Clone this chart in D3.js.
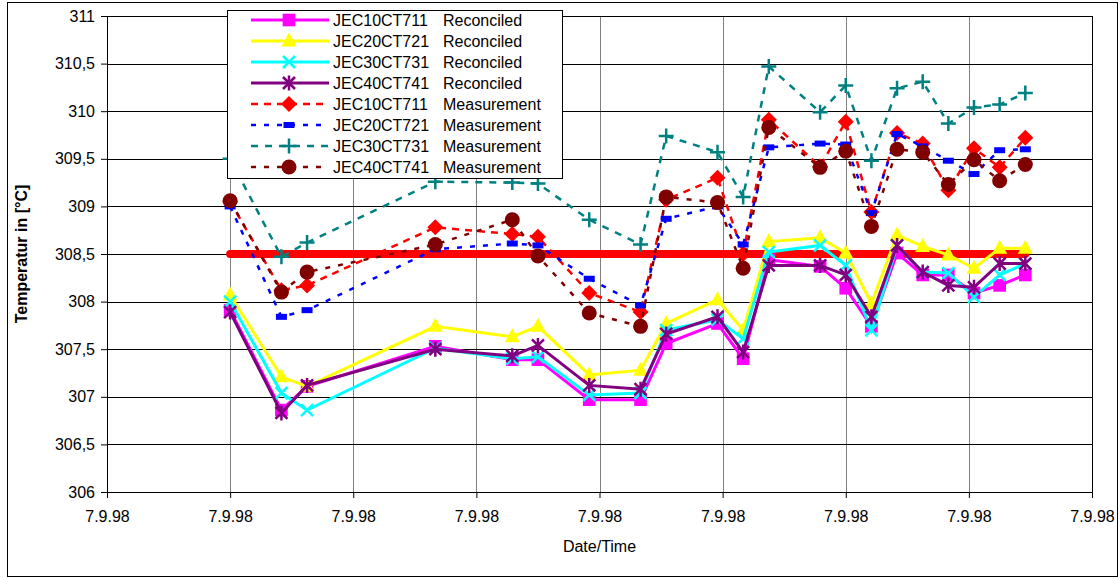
<!DOCTYPE html>
<html>
<head>
<meta charset="utf-8">
<script src="https://cdn.jsdelivr.net/npm/d3@7"></script>
<style>
    body { margin: 0; background: #fff; }
    svg text { font-family: "Liberation Sans", Arial, sans-serif; fill: #000; }
</style>
</head>
<body>
<script>
// sample times on 7.9.98
var day = "07.09.1998";
var startTime = "06:00", endTime = "22:00";
var times = ["08:00", "08:50", "09:15", "11:20", "12:35", "13:00", "13:50", "14:40", "15:05", "15:55", "16:20",
    "16:45", "17:35", "18:00", "18:25", "18:50", "19:15", "19:40", "20:05", "20:30", "20:55"];

// reconciled values
var rec711 = [307.91, 306.86, 307.11, 307.53, 307.39, 307.39, 306.97, 306.97, 307.56, 307.77, 307.40,
    308.44, 308.37, 308.14, 307.74, 308.51, 308.28, 308.28, 308.09, 308.17, 308.28];
var rec721 = [308.07, 307.21, 307.11, 307.74, 307.63, 307.74, 307.23, 307.28, 307.77, 308.02, 307.70,
    308.63, 308.67, 308.51, 307.98, 308.70, 308.58, 308.49, 308.35, 308.56, 308.56];
var rec731 = [308.00, 307.04, 306.86, 307.51, 307.40, 307.42, 307.02, 307.04, 307.70, 307.81, 307.61,
    308.52, 308.59, 308.38, 307.70, 308.59, 308.31, 308.30, 308.05, 308.28, 308.40];
var rec741 = [307.89, 306.83, 307.12, 307.50, 307.43, 307.54, 307.12, 307.08, 307.66, 307.84, 307.47,
    308.38, 308.38, 308.28, 307.84, 308.59, 308.31, 308.17, 308.15, 308.40, 308.40];

// measured values
var meas711 = [309.05, 308.12, 308.17, 308.78, 308.71, 308.68, 308.09, 307.89, 309.07, 309.30, 308.50,
    309.91, 309.42, 309.89, 308.94, 309.77, 309.66, 309.17, 309.61, 309.41, 309.72];
var meas721 = [309.00, 307.84, 307.91, 308.55, 308.61, 308.59, 308.24, 307.96, 308.87, 309.00, 308.60,
    309.62, 309.66, 309.65, 308.93, 309.76, 309.63, 309.48, 309.34, 309.59, 309.60];
var meas731 = [309.50, 308.47, 308.62, 309.26, 309.25, 309.24, 308.86, 308.60, 309.74, 309.57, 309.10,
    310.47, 309.99, 310.27, 309.48, 310.24, 310.31, 309.87, 310.04, 310.07, 310.19];
var meas741 = [309.06, 308.10, 308.31, 308.60, 308.86, 308.48, 307.88, 307.74, 309.10, 309.04, 308.35,
    309.83, 309.41, 309.58, 308.79, 309.60, 309.57, 309.23, 309.49, 309.27, 309.44];

// limit line
var limitValue = 308.5;

var yTicks = [306, 306.5, 307, 307.5, 308, 308.5, 309, 309.5, 310, 310.5, 311];

var seriesNames = ["JEC10CT711", "JEC20CT721", "JEC30CT731", "JEC40CT741",
    "JEC10CT711", "JEC20CT721", "JEC30CT731", "JEC40CT741"];
var seriesKinds = ["Reconciled", "Reconciled", "Reconciled", "Reconciled",
    "Measurement", "Measurement", "Measurement", "Measurement"];
var seriesValues = [rec711, rec721, rec731, rec741, meas711, meas721, meas731, meas741];
var seriesColors = ["#ff00ff", "#ffff00", "#00ffff", "#800080", "#ff0000", "#0000ff", "#008080", "#800000"];
var seriesMarkers = ["square", "triangle", "x", "star", "diamond", "dash", "plus", "circle"];
var seriesDashes = [null, null, null, null, "7,6", "5,8", "7,7", "5,8"];

var margin = { top: 16, right: 28, bottom: 86, left: 107 },
    fullWidth = 1120, fullHeight = 578,
    width = fullWidth - margin.left - margin.right,
    height = fullHeight - margin.top - margin.bottom;

var parseTime = d3.timeParse("%d.%m.%Y %H:%M");
function toDate(t) { return parseTime(day + " " + t); }

var xScale = d3.scaleTime()
    .domain([toDate(startTime), toDate(endTime)])
    .range([0, width]);
var yScale = d3.scaleLinear().domain([306, 311]).range([height, 0]);

var commaFormat = d3.formatLocale({ decimal: ",", thousands: ".", grouping: [3], currency: ["", ""] }).format("~g");

var svg0 = d3.select("body").append("svg")
    .attr("width", fullWidth)
    .attr("height", fullHeight);

// chart border
svg0.append("rect")
    .attr("x", 7.5).attr("y", 2.5)
    .attr("width", 1110).attr("height", 574)
    .attr("fill", "#fff")
    .attr("stroke", "#000");

var svg = svg0.append("g")
    .attr("transform", "translate(" + margin.left + "," + margin.top + ")");

var xTicks = xScale.ticks(d3.timeHour.every(2));

// gridlines
svg.append("g").selectAll("line")
    .data(xTicks.slice(1))
    .enter().append("line")
    .attr("x1", function (d) { return Math.round(xScale(d)) + 0.5; })
    .attr("x2", function (d) { return Math.round(xScale(d)) + 0.5; })
    .attr("y1", 0).attr("y2", height)
    .attr("stroke", function (d, i) { return i === xTicks.length - 2 ? "#000" : "#808080"; })
    .attr("stroke-width", 1);

svg.append("g").selectAll("line")
    .data(yTicks.slice(1))
    .enter().append("line")
    .attr("x1", 0).attr("x2", width)
    .attr("y1", function (d) { return Math.round(yScale(d)) + 0.5; })
    .attr("y2", function (d) { return Math.round(yScale(d)) + 0.5; })
    .attr("stroke", "#000")
    .attr("stroke-width", 1);

// axes
var xAxis = d3.axisBottom(xScale)
    .tickValues(xTicks)
    .tickFormat(d3.timeFormat("%-d.%-m.%y"))
    .tickSize(6).tickSizeOuter(0).tickPadding(13);
var yAxis = d3.axisLeft(yScale)
    .tickValues(yTicks)
    .tickFormat(commaFormat)
    .tickSize(6).tickSizeOuter(0).tickPadding(6);

var gx = svg.append("g")
    .attr("transform", "translate(0," + height + ")")
    .call(xAxis);
var gy = svg.append("g").call(yAxis);
[gx, gy].forEach(function (g) {
    g.selectAll("text").style("font-size", "16px").attr("fill", "#000");
    g.selectAll("line, path").attr("stroke", "#000");
});

// axis titles
svg.append("text")
    .attr("x", width / 2).attr("y", 552 - margin.top)
    .attr("text-anchor", "middle")
    .style("font-size", "16px")
    .text("Date/Time");
svg.append("text")
    .attr("transform", "translate(" + (27 - margin.left) + "," + (height / 2) + ") rotate(-90)")
    .attr("text-anchor", "middle")
    .style("font-size", "16px")
    .style("font-weight", "bold")
    .text("Temperatur in [°C]");

// limit line
var limitTimes = [times[0], times[times.length - 1]];
svg.append("path")
    .datum(limitTimes)
    .attr("fill", "none")
    .attr("stroke", "#ff0000")
    .attr("stroke-width", 8)
    .attr("stroke-linecap", "round")
    .attr("d", d3.line()
        .x(function (d) { return xScale(toDate(d)); })
        .y(function () { return yScale(limitValue); }));

// marker shapes
function markerPath(type) {
    switch (type) {
        case "square": return d3.symbol(d3.symbolSquare, 160)();
        case "triangle": return "M0,-8.5L7.5,5.5L-7.5,5.5Z";
        case "x": return "M-6,-6L6,6M-6,6L6,-6";
        case "star": return "M-6,-6L6,6M-6,6L6,-6M0,-7.5L0,7.5";
        case "diamond": return "M0,-8L8,0L0,8L-8,0Z";
        case "dash": return "M-5.5,-3h11v6h-11Z";
        case "plus": return "M-7.5,0H7.5M0,-7.5V7.5";
        case "circle": return d3.symbol(d3.symbolCircle, Math.PI * 7.5 * 7.5)();
    }
}
function isStroked(type) { return type === "x" || type === "star" || type === "plus"; }

function drawMarker(g, type, color) {
    g.append("path")
        .attr("d", markerPath(type))
        .attr("fill", isStroked(type) ? "none" : color)
        .attr("stroke", isStroked(type) ? color : "none")
        .attr("stroke-width", 2.5);
}

var line = d3.line()
    .x(function (d, i) { return xScale(toDate(times[i])); })
    .y(function (d) { return yScale(d); });

// series
seriesValues.forEach(function (vals, s) {
    var g = svg.append("g");
    g.append("path")
        .datum(vals)
        .attr("fill", "none")
        .attr("stroke", seriesColors[s])
        .attr("stroke-width", s < 4 ? 3 : 2.5)
        .attr("stroke-dasharray", seriesDashes[s])
        .attr("d", line);
    g.selectAll(".pt")
        .data(vals)
        .enter().append("g")
        .attr("class", "pt")
        .attr("transform", function (d, i) {
            return "translate(" + xScale(toDate(times[i])) + "," + yScale(d) + ")";
        })
        .each(function () { drawMarker(d3.select(this), seriesMarkers[s], seriesColors[s]); });
});

// legend
var legend = svg0.append("g").attr("transform", "translate(227,10)");
legend.append("rect")
    .attr("x", 0.5).attr("y", 0.5)
    .attr("width", 335).attr("height", 168)
    .attr("fill", "#fff")
    .attr("stroke", "#000");

seriesNames.forEach(function (name, s) {
    var row = legend.append("g").attr("transform", "translate(0," + (10 + s * 21) + ")");
    row.append("line")
        .attr("x1", 24).attr("x2", 102)
        .attr("stroke", seriesColors[s])
        .attr("stroke-width", s < 4 ? 3 : 2.5)
        .attr("stroke-dasharray", seriesDashes[s]);
    var m = row.append("g").attr("transform", "translate(62,0)");
    drawMarker(m, seriesMarkers[s], seriesColors[s]);
    row.append("text")
        .attr("x", 106).attr("dy", "0.36em")
        .style("font-size", "16px")
        .text(name);
    row.append("text")
        .attr("x", 216).attr("dy", "0.36em")
        .style("font-size", "16px")
        .text(seriesKinds[s]);
});
</script>
</body>
</html>
